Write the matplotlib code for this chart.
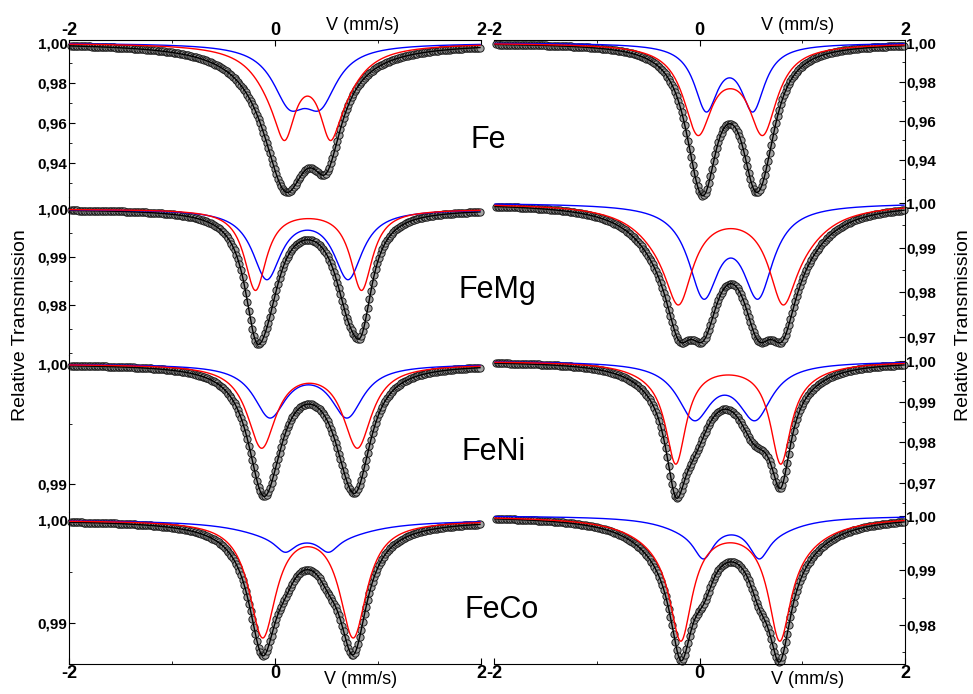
"""
Mossbauer spectra of Fe, FeMg, FeNi and FeCo samples: two columns of
four stacked panels, each with two doublet sub-spectra (blue, red),
the total fit (black line) and the measured points (grey circles).
"""
import matplotlib
matplotlib.use("Agg")
import matplotlib.pyplot as plt
import numpy as np
from matplotlib.ticker import AutoMinorLocator, FixedLocator, FuncFormatter

plt.rcParams["font.family"] = ["Liberation Sans", "DejaVu Sans"]
plt.rcParams["font.weight"] = "bold"   # tick labels are bold in the original

SAMPLES = ["Fe", "FeMg", "FeNi", "FeCo"]

# Panel order: left column Fe, FeMg, FeNi, FeCo, then right column.
# Each curve is a sum of Lorentzian lines: position (mm/s), depth, HWHM.
BLUE_POS = [[0.14, 0.44], [-0.08, 0.71], [-0.05, 0.70], [0.10, 0.52, 0.0, 0.62],
            [0.065, 0.52], [0.04, 0.57], [-0.05, 0.54], [0.04, 0.58, -0.10, 0.72]]
BLUE_DEPTH = [[0.0256, 0.0256], [0.0141, 0.0141], [0.00425, 0.00425],
              [0.0015, 0.0015, 0.0011, 0.0011],
              [0.0326, 0.0326], [0.0195, 0.0195], [0.0133, 0.0133],
              [0.0055, 0.0055, 0.002, 0.002]]
BLUE_HWHM = [[0.2, 0.2], [0.17, 0.17], [0.19, 0.19], [0.12, 0.12, 0.45, 0.45],
             [0.14, 0.14], [0.18, 0.18], [0.2, 0.2], [0.12, 0.12, 0.35, 0.35]]

RED_POS = [[0.097, 0.534, -0.003, 0.634], [-0.19, 0.84], [-0.13, 0.80], [-0.12, 0.76],
           [-0.016, 0.616, 0.30], [-0.20, 0.81, -0.35, 0.96],
           [-0.23, 0.79, -0.38, 0.94], [-0.18, 0.78, -0.30, 0.90]]
RED_DEPTH = [[0.0285, 0.0285, 0.0175, 0.0175], [0.0167, 0.0167], [0.0068, 0.0068],
             [0.0111, 0.0111],
             [0.0434, 0.0434, 0.004], [0.0168, 0.0168, 0.006, 0.006],
             [0.0229, 0.0229, 0.0023, 0.0023], [0.0186, 0.0186, 0.0039, 0.0039]]
RED_HWHM = [[0.12, 0.12, 0.25, 0.25], [0.13, 0.13], [0.17, 0.17], [0.16, 0.16],
            [0.17, 0.17, 0.2], [0.16, 0.16, 0.35, 0.35],
            [0.12, 0.12, 0.35, 0.35], [0.13, 0.13, 0.4, 0.4]]

# total fit; an empty list means blue + red
FIT_POS = [[0.10, 0.50, 0.10, 0.50], [], [], [], [], [], [], []]
FIT_DEPTH = [[0.0613, 0.0406, 0.004, 0.004], [], [], [], [], [], [], []]
FIT_HWHM = [[0.26, 0.18, 0.45, 0.45], [], [], [], [], [], [], []]

Y_LIMITS = [(0.923, 1.0015), (0.9696, 1.0025), (0.98767, 1.00075), (0.98602, 1.00078),
            (0.921, 1.0015), (0.966, 1.00134), (0.9629, 1.0015), (0.97284, 1.0007)]
Y_TICKS = [[1.00, 0.98, 0.96, 0.94], [1.00, 0.99, 0.98], [1.00, 0.99], [1.00, 0.99],
           [1.00, 0.98, 0.96, 0.94], [1.00, 0.99, 0.98, 0.97],
           [1.00, 0.99, 0.98, 0.97], [1.00, 0.99, 0.98]]
X_TICKS = [-2, 0, 2]

W, H = 973, 694
COL_X = [(69, 481), (494, 905)]
ROW_Y = [40, 197, 355, 512, 664]
LABEL_XY = [(488, 140), (497, 290), (494, 452), (502, 610)]


def absorption(v, pos, depth, hwhm):
    a = np.zeros_like(v)
    for c, d, h in zip(pos, depth, hwhm):
        a += d / (1.0 + ((v - c) / h) ** 2)
    return a


comma = FuncFormatter(lambda y, _: f"{y:.2f}".replace(".", ","))
v_line = np.linspace(-1.99, 1.99, 700)
v_pts = np.linspace(-1.98, 1.99, 256)

fig = plt.figure(figsize=(W / 100, H / 100), dpi=100)

for col in range(2):
    x0, x1 = COL_X[col]
    for row in range(4):
        k = col * 4 + row
        top, bot = ROW_Y[row], ROW_Y[row + 1]
        ax = fig.add_axes([x0 / W, 1 - bot / H, (x1 - x0) / W, (bot - top) / H])
        ax.patch.set_visible(False)

        blue = absorption(v_line, BLUE_POS[k], BLUE_DEPTH[k], BLUE_HWHM[k])
        red = absorption(v_line, RED_POS[k], RED_DEPTH[k], RED_HWHM[k])
        if FIT_POS[k]:
            fit = absorption(v_line, FIT_POS[k], FIT_DEPTH[k], FIT_HWHM[k])
            fit_pts = absorption(v_pts, FIT_POS[k], FIT_DEPTH[k], FIT_HWHM[k])
        else:
            fit = blue + red
            fit_pts = (absorption(v_pts, BLUE_POS[k], BLUE_DEPTH[k], BLUE_HWHM[k])
                       + absorption(v_pts, RED_POS[k], RED_DEPTH[k], RED_HWHM[k]))

        ax.plot(v_pts, 1 - fit_pts, "o", ms=5.2, mfc="#a3a3a3", mec="#202020",
                mew=0.7, clip_on=False, zorder=2)
        ax.plot(v_line, 1 - fit, color="black", lw=1.0, clip_on=False, zorder=3)
        ax.plot(v_line, 1 - blue, color="#0000ff", lw=1.0, clip_on=False, zorder=4)
        ax.plot(v_line, 1 - red, color="#ff0000", lw=1.0, clip_on=False, zorder=5)

        ax.set_xlim(-2, 2)
        ax.set_ylim(*Y_LIMITS[k])

        for side in ["left", "right", "top", "bottom"]:
            ax.spines[side].set_visible(False)
        ysp = "left" if col == 0 else "right"
        ax.spines[ysp].set_visible(True)

        ax.yaxis.set_major_locator(FixedLocator(Y_TICKS[k]))
        ax.yaxis.set_minor_locator(AutoMinorLocator(2))
        ax.yaxis.set_major_formatter(comma)
        ax.tick_params(axis="y", which="both", direction="in",
                       left=(col == 0), labelleft=(col == 0),
                       right=(col == 1), labelright=(col == 1),
                       pad=1, labelsize=11)
        ax.tick_params(axis="y", which="major", length=4)
        ax.tick_params(axis="y", which="minor", length=2.5)

        ax.xaxis.set_major_locator(FixedLocator(X_TICKS))
        ax.xaxis.set_minor_locator(FixedLocator([-1, 1]))
        ax.xaxis.set_major_formatter(FuncFormatter(lambda x, _: f"{x:g}"))
        is_top, is_bot = row == 0, row == 3
        if is_top:
            ax.spines["top"].set_visible(True)
        if is_bot:
            ax.spines["bottom"].set_visible(True)
        ax.tick_params(axis="x", which="both", direction="in",
                       top=is_top, labeltop=is_top,
                       bottom=is_bot, labelbottom=is_bot, pad=1, labelsize=13)
        ax.tick_params(axis="x", which="major", length=4)
        ax.tick_params(axis="x", which="minor", length=2.5)

for name, (lx, ly) in zip(SAMPLES, LABEL_XY):
    fig.text(lx / W, 1 - ly / H, name, fontsize=22, fontweight="normal",
             ha="center", va="center")

for (lx, ly) in [(363, 25), (798, 25), (361, 680), (808, 680)]:
    fig.text(lx / W, 1 - ly / H, "V (mm/s)", fontsize=13, fontweight="normal",
             ha="center", va="center")

for lx in [21, 964]:
    fig.text(lx / W, 1 - 325 / H, "Relative Transmission", fontsize=14,
             fontweight="normal", rotation=90, ha="center", va="center")

fig.savefig("out.png", dpi=100)
